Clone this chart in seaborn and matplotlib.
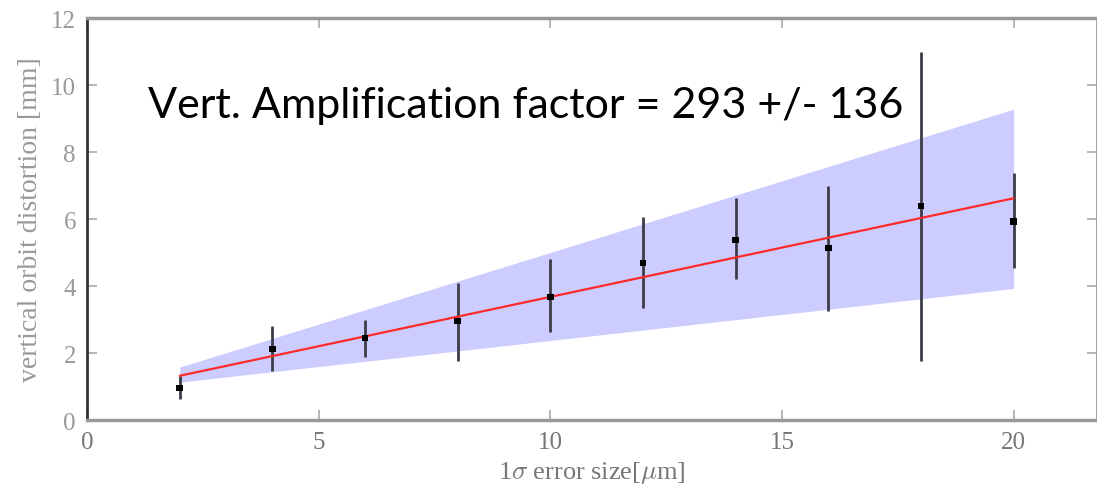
import matplotlib
matplotlib.use("Agg")
import matplotlib.pyplot as plt
import numpy as np
import pandas as pd
import seaborn as sns

# Error size (um) and measured vertical orbit distortion (mm)
error_size = [2, 4, 6, 8, 10, 12, 14, 16, 18, 20]
distortion = [0.95, 2.12, 2.45, 2.96, 3.67, 4.69, 5.37, 5.13, 6.39, 5.93]
err_low = [0.62, 1.46, 1.88, 1.76, 2.62, 3.33, 4.20, 3.25, 1.77, 4.55]
err_high = [1.30, 2.80, 3.00, 4.10, 4.80, 6.05, 6.63, 7.00, 11.00, 7.37]

# Linear fit and its uncertainty band (ends)
fit_x = [2, 20]
fit_y = [1.32, 6.62]
band_upper = [1.58, 9.28]
band_lower = [1.13, 3.93]

df = pd.DataFrame({"x": error_size, "y": distortion})
fit_df = pd.DataFrame({"x": fit_x, "y": fit_y})

sns.set_style("ticks")
plt.rcParams["mathtext.fontset"] = "cm"

fig = plt.figure(figsize=(10.97, 4.89), dpi=100)
ax = fig.add_axes([0.0793, 0.139, 0.9207, 0.822])

ax.fill_between(fit_x, band_lower, band_upper, color="#ccccff", linewidth=0, zorder=1)
sns.lineplot(data=fit_df, x="x", y="y", color="#ff2a2a", linewidth=1.6, ax=ax, zorder=3)
ax.vlines(error_size, err_low, err_high, color="#3c3c48", linewidth=2.0, zorder=2)
sns.scatterplot(data=df, x="x", y="y", marker="s", s=22, color="black",
                edgecolor="none", ax=ax, zorder=4)

ax.text(1.32, 9.04, "Vert. Amplification factor = 293 +/- 136",
        fontsize=31, family="Lato", color="black", va="baseline", ha="left")

ax.set_xlim(0, 21.8)
ax.set_ylim(0, 12)
ax.set_xticks([0, 5, 10, 15, 20])
ax.set_yticks([0, 2, 4, 6, 8, 10, 12])

serif = "Liberation Serif"
ax.set_xlabel(r"1$\sigma$ error size[$\mu$m]", fontsize=19, family=serif,
              color="#777777", labelpad=4)
ax.set_ylabel("vertical orbit distortion [mm]", fontsize=20, family=serif,
              color="#999999", labelpad=6)

ax.tick_params(direction="in", length=7, width=1.2, color="#aaaaaa",
               top=True, right=True, pad=8)
for lab in ax.get_xticklabels():
    lab.set_family(serif)
    lab.set_fontsize(18)
    lab.set_color("#777777")
for lab in ax.get_yticklabels():
    lab.set_family(serif)
    lab.set_fontsize(18)
    lab.set_color("#999999")

for side in ["top", "bottom"]:
    ax.spines[side].set_color("#999999")
    ax.spines[side].set_linewidth(2.5)
ax.spines["left"].set_color("#333333")
ax.spines["left"].set_linewidth(2.0)
ax.spines["right"].set_color("#999999")
ax.spines["right"].set_linewidth(2.0)

fig.savefig("out.png", dpi=100)
